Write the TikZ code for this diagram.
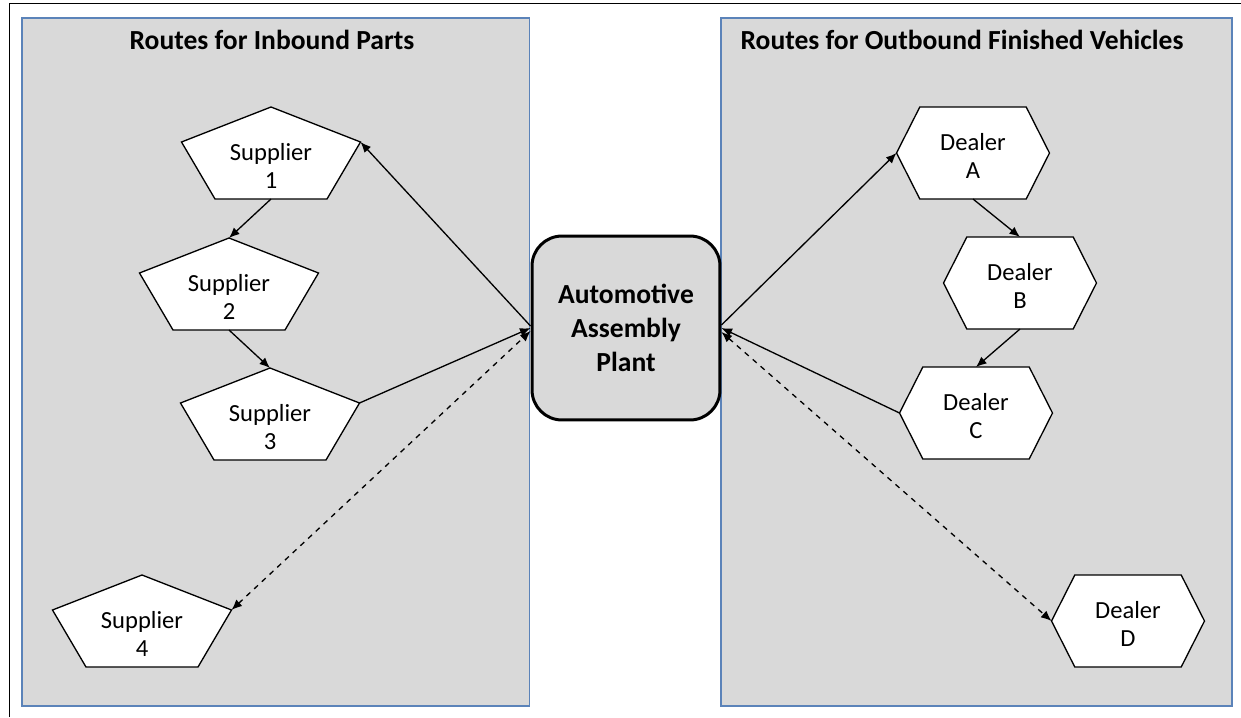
\documentclass[tikz,border=0pt]{standalone}
\usepackage{fontspec}
\setmainfont{Carlito}
\usetikzlibrary{arrows.meta,positioning,calc}
\definecolor{panelgray}{RGB}{217,217,217}
\definecolor{panelblue}{RGB}{91,131,185}
\tikzset{
	%Define standard arrow tip
	>={Latex[length=6pt,width=5pt]},
	%Define style for the panel titles
	paneltitle/.style={font=\fontsize{15.7}{19}\selectfont\bfseries},
	%Define style for the two panels
	panel/.style={draw=panelblue, line width=0.9pt, fill=panelgray},
	%Define style for the outline and text of a stop
	stopline/.style={draw=black, fill=white, line width=0.75pt, line join=miter},
	stoptext/.style={align=center, inner sep=0pt, font=\fontsize{14}{16.2}\selectfont},
	%Define style for the plant box
	plantbox/.style={
		rectangle,
		rounded corners=0.6cm,
		draw=black, line width=1.7pt,
		fill=panelgray,
		minimum width=3.76cm,
		minimum height=3.68cm,
		align=center,
		font=\fontsize{15.7}{19.3}\selectfont\bfseries},
	% Define arrow style
	pil/.style={line width=0.75pt},
	% Define a supplier pentagon
	supplier/.pic={
		\draw[stopline] (0,-46) -- (89.5,-11) -- (56,46) -- (-56,46) -- (-89.5,-11) -- cycle;
		\coordinate (-top) at (0,-46);
		\coordinate (-bottom) at (0,46);
		\coordinate (-left) at (-89.5,-11);
		\coordinate (-right) at (89.5,-11);
		\node[stoptext] (-txt) at (0,13) {#1};
	},
	% Define a dealer hexagon
	dealer/.pic={
		\draw[stopline] (-76.5,0) -- (-53.2,-46) -- (53.2,-46) -- (76.5,0) -- (53.2,46) -- (-53.2,46) -- cycle;
		\coordinate (-top) at (0,-46);
		\coordinate (-bottom) at (0,46);
		\coordinate (-left) at (-76.5,0);
		\coordinate (-right) at (76.5,0);
		\node[stoptext] (-txt) at (0,3) {#1};
	}
}

\begin{document}
\begin{tikzpicture}[x=0.02cm, y=-0.02cm]
	\useasboundingbox (0,0) rectangle (1241,717);
	% outer frame
	\draw[line width=0.9pt] (9.5,717) -- (9.5,3.5) -- (1241,3.5);
	% panels
	\draw[panel] (22,18) rectangle (529.5,706);
	\draw[panel] (721,18) rectangle (1232,706);
	\node[paneltitle] (intitle) at (272,40) {Routes for Inbound Parts};
	\node[paneltitle] (outtitle) at (962,40) {Routes for Outbound Finished Vehicles};
	% node plant
	\node[plantbox] (plant) at (626,328) {Automotive\\Assembly\\Plant};
	% suppliers
	\pic (s1) at (271,153) {supplier={Supplier\\1}};
	\pic (s2) at (229,284) {supplier={Supplier\\2}};
	\pic (s3) at (270,414) {supplier={Supplier\\3}};
	\pic (s4) at (142,621) {supplier={Supplier\\4}};
	% dealers
	\pic (da) at (973,153) {dealer={Dealer\\A}};
	\pic (db) at (1020,283) {dealer={Dealer\\B}};
	\pic (dc) at (976,413) {dealer={Dealer\\C}};
	\pic (dd) at (1128,621) {dealer={Dealer\\D}};
	% inbound routes
	\draw[pil, <-]  (s1-right) -- ($(plant.west) + (0,-2)$);
	\draw[pil, ->]  (s1-bottom) -- (s2-top);
	\draw[pil, ->]  (s2-bottom) -- (s3-top);
	\draw[pil, ->]  (s3-right) -- (plant.west);
	\draw[pil, dashed, <->]  (s4-right) -- ($(plant.west) + (0,3)$);
	% outbound routes
	\draw[pil, ->]  ($(plant.east) + (0,-3)$) -- (da-left);
	\draw[pil, ->]  (da-bottom) -- (db-top);
	\draw[pil, ->]  (db-bottom) -- (dc-top);
	\draw[pil, ->]  (dc-left) -- (plant.east);
	\draw[pil, dashed, <->]  ($(plant.east) + (0,4)$) -- (dd-left);
\end{tikzpicture}
\end{document}
